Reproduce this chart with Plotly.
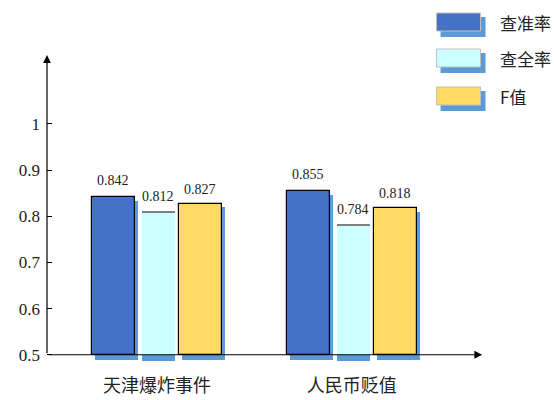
import plotly.graph_objects as go

categories = ["天津爆炸事件", "人民币贬值"]
series_names = ["查准率", "查全率", "F值"]
precision = [0.842, 0.855]
recall = [0.812, 0.784]
f_value = [0.827, 0.818]
y_tick_vals = [0.5, 0.6, 0.7, 0.8, 0.9, 1]
y_tick_text = ["0.5", "0.6", "0.7", "0.8", "0.9", "1"]

series = [precision, recall, f_value]
colors = ["#4472C4", "#CCFFFF", "#FFD966"]
offsets = [-0.333, -0.077, 0.113]
widths = [0.22, 0.17, 0.22]
SHADOW = "#5B9BD5"
BASE = 0.5
xs = list(range(len(categories)))

X0, X1 = -0.5641, 1.70
Y0, Y1 = 0.48, 1.16
L, R, T, B = 47, 554 - 488.5, 50, 36
W, H = 554, 400
PW, PH = W - L - R, H - T - B

SERIF = "Liberation Serif, Noto Sans CJK SC, serif"
CJK = "Noto Sans CJK SC, sans-serif"

fig = go.Figure()
for k, vals in enumerate(series):
    # shadow
    if k == 1:
        fig.add_bar(x=xs, y=[0.013] * len(xs), base=BASE - 0.013,
                    offset=offsets[k], width=widths[k],
                    marker=dict(color=SHADOW, line_width=0),
                    showlegend=False, hoverinfo="skip")
    else:
        fig.add_bar(x=xs, y=[v - BASE + 0.012 - 0.008 for v in vals],
                    base=BASE - 0.012, offset=offsets[k] + 0.016, width=widths[k],
                    marker=dict(color=SHADOW, line_width=0),
                    showlegend=False, hoverinfo="skip")
    # main bar
    fig.add_bar(x=xs, y=[v - BASE for v in vals], base=BASE,
                offset=offsets[k], width=widths[k], name=series_names[k],
                marker=dict(color=colors[k],
                            line=dict(color="#000000" if k != 1 else colors[k],
                                      width=1.2 if k != 1 else 0)),
                showlegend=False)
    if k == 1:
        fig.add_bar(x=xs, y=[0.005] * len(xs), base=[v - 0.005 for v in vals],
                    offset=offsets[k], width=widths[k],
                    marker=dict(color="#7F7F7F", line_width=0),
                    showlegend=False, hoverinfo="skip")
    # value labels
    for x, v in zip(xs, vals):
        fig.add_annotation(x=x + offsets[k] + widths[k] / 2, y=v, xref="x", yref="y",
                           text=f"{v:.3f}", showarrow=False, yanchor="bottom",
                           yshift=5 if k != 0 else 7,
                           font=dict(family=SERIF, size=14, color="#222222"))

# axis lines with arrows
fig.add_annotation(x=X1 - 0.03, y=BASE, ax=X0, ay=BASE, xref="x", yref="y",
                   axref="x", ayref="y", text="", showarrow=True,
                   arrowhead=2, arrowsize=1.3, arrowwidth=1.2, arrowcolor="#000000")
fig.add_annotation(x=X0, y=1.149, ax=X0, ay=BASE, xref="x", yref="y",
                   axref="x", ayref="y", text="", showarrow=True,
                   arrowhead=2, arrowsize=1.3, arrowwidth=1.2, arrowcolor="#000000")

# custom legend (paper coords from pixel positions)
def px(xp):
    return (xp - L) / PW

def py(yp):
    return 1 - (yp - T) / PH

legend_rows = [22, 58, 96]
for name, col, yc in zip(series_names, colors, legend_rows):
    fig.add_shape(type="rect", xref="paper", yref="paper",
                  x0=px(441), x1=px(486), y0=py(yc + 15), y1=py(yc - 5),
                  fillcolor=SHADOW, line_width=0, layer="above")
    fig.add_shape(type="rect", xref="paper", yref="paper",
                  x0=px(437), x1=px(481), y0=py(yc + 9), y1=py(yc - 9),
                  fillcolor=col, line=dict(color="#BFBFBF", width=1), layer="above")
    fig.add_annotation(xref="paper", yref="paper", x=px(499), y=py(yc),
                       text=name, showarrow=False, xanchor="left", yanchor="middle",
                       font=dict(family=CJK, size=17, color="#222222"))

fig.update_layout(
    width=W, height=H,
    margin=dict(l=L, r=R, t=T, b=B, pad=0),
    paper_bgcolor="white", plot_bgcolor="white",
    barmode="overlay", bargap=0,
    showlegend=False,
    xaxis=dict(range=[X0, X1], tickvals=xs, ticktext=categories,
               showgrid=False, zeroline=False, showline=False, ticks="",
               ticklabelstandoff=9, automargin=False,
               tickfont=dict(family=CJK, size=18, color="#222222")),
    yaxis=dict(range=[Y0, Y1], tickvals=y_tick_vals, ticktext=y_tick_text,
               showgrid=False, zeroline=False, showline=False,
               ticks="inside", ticklen=5, tickcolor="#000000", tickwidth=1,
               ticklabelstandoff=6, automargin=False,
               tickfont=dict(family=SERIF, size=17, color="#222222")),
)

fig.write_html("out.html")
